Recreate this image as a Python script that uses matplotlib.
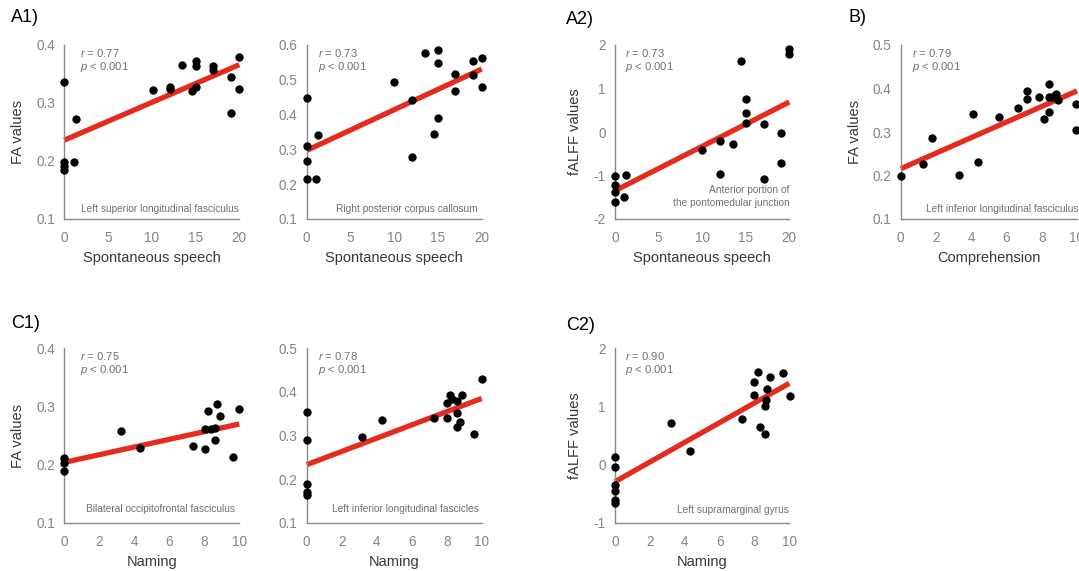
import matplotlib
matplotlib.use("Agg")
import matplotlib.pyplot as plt

plt.rcParams['font.family'] = ['Liberation Sans', 'DejaVu Sans']
plt.rcParams['mathtext.fontset'] = 'custom'
plt.rcParams['mathtext.it'] = 'Liberation Sans:italic'
plt.rcParams['mathtext.rm'] = 'Liberation Sans'
plt.rcParams['axes.unicode_minus'] = False

# ---------------- data ----------------
# A1 left: Left superior longitudinal fasciculus
a1_x = [0, 1.3, 0, 0, 0, 1.1, 10.1, 12.1, 12.1, 13.5, 14.55, 15.1, 15.1, 15.1, 17.05, 17.05, 19.0, 19.1, 20, 20]
a1_y = [0.336, 0.272, 0.199, 0.192, 0.184, 0.199, 0.3225, 0.328, 0.324, 0.366, 0.320, 0.373, 0.364, 0.327,
        0.364, 0.357, 0.345, 0.283, 0.380, 0.324]
a1_fit = (0.236, 0.0065)

# A1 right: Right posterior corpus callosum
a1b_x = [0, 0, 0, 0, 1.03, 1.26, 10.0, 12.0, 12.0, 13.5, 14.5, 15, 15, 15, 17.0, 17.0, 19.0, 19.0, 20, 20]
a1b_y = [0.448, 0.311, 0.266, 0.214, 0.214, 0.341, 0.495, 0.441, 0.279, 0.578, 0.343, 0.585, 0.547, 0.390,
         0.517, 0.467, 0.553, 0.515, 0.564, 0.480]
a1b_fit = (0.297, 0.0117)

# A2: Anterior portion of the pontomedullary junction
a2_x = [0, 0, 0, 0, 1.03, 1.26, 10.0, 12.05, 12.05, 13.5, 14.5, 15.0, 15.0, 15.0, 17.05, 17.05, 19.08, 19.08, 20, 20]
a2_y = [-1.02, -1.22, -1.39, -1.62, -1.49, -0.99, -0.415, -0.21, -0.97, -0.286, 1.634, 0.766, 0.438, 0.21,
        0.194, -1.07, -0.034, -0.72, 1.90, 1.787]
a2_fit = (-1.35, 0.102)

# B: Left inferior longitudinal fasciculus
b_x = [0, 1.29, 1.8, 3.31, 4.08, 4.4, 5.58, 6.67, 7.16, 7.16, 7.83, 8.15, 8.39, 8.39, 8.39, 8.58, 8.8, 8.94, 9.92, 9.92]
b_y = [0.199, 0.226, 0.286, 0.202, 0.342, 0.230, 0.334, 0.355, 0.395, 0.376, 0.381, 0.331, 0.410, 0.381, 0.346,
       0.381, 0.387, 0.374, 0.365, 0.304]
b_fit = (0.2155, 0.0179)

# C1 left: Bilateral occipitofrontal fasciculus
c1_x = [0, 0, 0, 3.26, 4.32, 7.33, 8.02, 8.02, 8.23, 8.36, 8.6, 8.6, 8.74, 8.9, 9.62, 10.0]
c1_y = [0.211, 0.202, 0.189, 0.258, 0.229, 0.232, 0.226, 0.261, 0.293, 0.262, 0.263, 0.243, 0.304, 0.284,
        0.2135, 0.2956]
c1_fit = (0.2038, 0.0066)

# C1 right: Left inferior longitudinal fascicles
c1b_x = [0, 0, 0, 0, 0, 3.18, 4.29, 7.3, 8.0, 8.0, 8.19, 8.32, 8.57, 8.6, 8.6, 8.76, 8.9, 9.58, 10.0]
c1b_y = [0.354, 0.290, 0.188, 0.170, 0.164, 0.297, 0.335, 0.341, 0.339, 0.375, 0.392, 0.383, 0.379, 0.351,
         0.320, 0.332, 0.393, 0.303, 0.430]
c1b_fit = (0.233, 0.0152)

# C2: Left supramarginal gyrus
c2_x = [0, 0, 0, 0, 0, 0, 3.21, 4.3, 7.3, 7.99, 7.99, 8.22, 8.32, 8.7, 8.66, 8.62, 8.62, 8.89, 9.62, 10.04]
c2_y = [0.135, -0.037, -0.352, -0.456, -0.61, -0.668, 0.72, 0.239, 0.778, 1.426, 1.196, 1.598, 0.652, 1.294,
        1.11, 1.007, 0.526, 1.512, 1.58, 1.185]
c2_fit = (-0.295, 0.1693)

# ---------------- layout ----------------
W, H = 1079, 571
fig = plt.figure(figsize=(W / 100, H / 100), dpi=100)

RED = '#e52b1e'
GREY_TXT = '#707070'
TICK_TXT = '#858585'
SPINE = '#8a8a8a'


def make_ax(px_left, px_top, px_right, px_bottom):
    return fig.add_axes([px_left / W, 1 - px_bottom / H, (px_right - px_left) / W, (px_bottom - px_top) / H])


panels = [
    dict(box=(64.3, 45, 239.3, 219), x=a1_x, y=a1_y, fit=a1_fit, xlim=(0, 20), xt=[0, 5, 10, 15, 20],
         ylim=(0.1, 0.4), yt=[0.1, 0.2, 0.3, 0.4], ytl=['0.1', '0.2', '0.3', '0.4'],
         xlabel='Spontaneous speech', ylabel='FA values', ylx=-0.265, r='0.77', rx=0.09,
         region='Left superior longitudinal fasciculus', regx=1.0, regy=0.06),
    dict(box=(306.7, 45, 481.7, 219), x=a1b_x, y=a1b_y, fit=a1b_fit, xlim=(0, 20), xt=[0, 5, 10, 15, 20],
         ylim=(0.1, 0.6), yt=[0.1, 0.2, 0.3, 0.4, 0.5, 0.6], ytl=['0.1', '0.2', '0.3', '0.4', '0.5', '0.6'],
         xlabel='Spontaneous speech', ylabel=None, ylx=0, r='0.73', rx=0.066,
         region='Right posterior corpus callosum', regx=0.978, regy=0.06),
    dict(box=(615, 45, 789.3, 219), x=a2_x, y=a2_y, fit=a2_fit, xlim=(0, 20), xt=[0, 5, 10, 15, 20],
         ylim=(-2, 2), yt=[-2, -1, 0, 1, 2], ytl=['-2', '-1', '0', '1', '2'],
         xlabel='Spontaneous speech', ylabel='fALFF values', ylx=-0.232, r='0.73', rx=0.058,
         region='Anterior portion of\nthe pontomedular junction', regx=1.0, regy=0.13),
    dict(box=(900.7, 45, 1077, 219), x=b_x, y=b_y, fit=b_fit, xlim=(0, 10), xt=[0, 2, 4, 6, 8, 10],
         ylim=(0.1, 0.5), yt=[0.1, 0.2, 0.3, 0.4, 0.5], ytl=['0.1', '0.2', '0.3', '0.4', '0.5'],
         xlabel='Comprehension', ylabel='FA values', ylx=-0.259, r='0.79', rx=0.062,
         region='Left inferior longitudinal fasciculus', regx=1.01, regy=0.06),
    dict(box=(64.3, 348.3, 239.3, 522.7), x=c1_x, y=c1_y, fit=c1_fit, xlim=(0, 10), xt=[0, 2, 4, 6, 8, 10],
         ylim=(0.1, 0.4), yt=[0.1, 0.2, 0.3, 0.4], ytl=['0.1', '0.2', '0.3', '0.4'],
         xlabel='Naming', ylabel='FA values', ylx=-0.265, r='0.75', rx=0.09,
         region='Bilateral occipitofrontal fasciculus', regx=0.977, regy=0.077),
    dict(box=(306.7, 348.3, 481.7, 522.7), x=c1b_x, y=c1b_y, fit=c1b_fit, xlim=(0, 10), xt=[0, 2, 4, 6, 8, 10],
         ylim=(0.1, 0.5), yt=[0.1, 0.2, 0.3, 0.4, 0.5], ytl=['0.1', '0.2', '0.3', '0.4', '0.5'],
         xlabel='Naming', ylabel=None, ylx=0, r='0.78', rx=0.066,
         region='Left inferior longitudinal fascicles', regx=0.985, regy=0.077),
    dict(box=(615, 348.3, 789.3, 522.7), x=c2_x, y=c2_y, fit=c2_fit, xlim=(0, 10), xt=[0, 2, 4, 6, 8, 10],
         ylim=(-1, 2), yt=[-1, 0, 1, 2], ytl=['-1', '0', '1', '2'],
         xlabel='Naming', ylabel='fALFF values', ylx=-0.232, r='0.90', rx=0.055,
         region='Left supramarginal gyrus', regx=1.0, regy=0.073),
]

for p in panels:
    ax = make_ax(*p['box'])
    ax.set_xlim(*p['xlim'])
    ax.set_ylim(*p['ylim'])
    x0, x1 = p['xlim']
    b0, m = p['fit']
    ax.plot([x0, x1], [b0 + m * x0, b0 + m * x1], color=RED, lw=3.8, solid_capstyle='butt', zorder=2,
            clip_on=False)
    ax.scatter(p['x'], p['y'], s=36, color='black', zorder=3, clip_on=False, linewidths=0)
    for s in ['top', 'right']:
        ax.spines[s].set_visible(False)
    for s in ['left', 'bottom']:
        ax.spines[s].set_color(SPINE)
        ax.spines[s].set_linewidth(1.0)
    ax.set_xticks(p['xt'])
    ax.set_xticklabels([str(v) for v in p['xt']])
    ax.set_yticks(p['yt'])
    ax.set_yticklabels(p['ytl'])
    ax.tick_params(axis='both', length=0, labelsize=9.8, colors=TICK_TXT)
    ax.tick_params(axis='x', pad=9)
    ax.tick_params(axis='y', pad=6.5)
    ax.set_xlabel(p['xlabel'], fontsize=10.5, color='#383838', va='center')
    ax.xaxis.set_label_coords(0.5, -0.225)
    if p['ylabel']:
        ax.set_ylabel(p['ylabel'], fontsize=10.5, color='#383838', va='center')
        ax.yaxis.set_label_coords(p['ylx'], 0.5)
    ax.text(p['rx'], 0.955, '$r$ = ' + p['r'], transform=ax.transAxes, fontsize=8.1, color=GREY_TXT,
            ha='left', va='center')
    ax.text(p['rx'], 0.875, '$p$ < 0.001', transform=ax.transAxes, fontsize=8.1, color=GREY_TXT,
            ha='left', va='center')
    ax.text(p['regx'], p['regy'], p['region'], transform=ax.transAxes, fontsize=7.3, color=GREY_TXT,
            ha='right', va='center', linespacing=1.3)
    ax.patch.set_alpha(0)

for lab, px, py in [('A1)', 11, 18), ('A2)', 566, 20), ('B)', 848, 18), ('C1)', 11, 323), ('C2)', 566, 325)]:
    fig.text(px / W, 1 - py / H, lab, fontsize=13, color='black', ha='left', va='center')

fig.savefig('out.png', dpi=100)
